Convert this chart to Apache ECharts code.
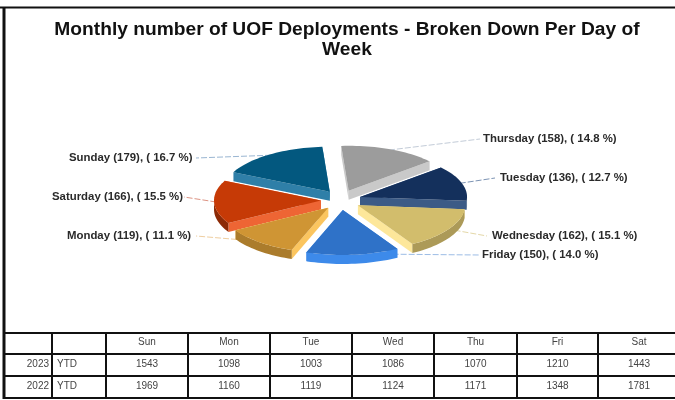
<!DOCTYPE html>
<html>
<head>
<meta charset="utf-8">
<style>
 html, body { margin: 0; padding: 0; background: #fff; }
 #main { width: 675px; height: 400px; }
</style>
</head>
<body>
<div id="main"></div>
<script src="https://cdn.jsdelivr.net/npm/echarts@6/dist/echarts.min.js"></script>
<script>
// slices, clockwise from the top
const days = ['Thursday', 'Tuesday', 'Wednesday', 'Friday', 'Monday', 'Saturday', 'Sunday']
const counts = [158, 136, 162, 150, 119, 166, 179]
const percents = ['14.8', '12.7', '15.1', '14.0', '11.1', '15.5', '16.7']

// table under the pie
const tableDays = ['Sun', 'Mon', 'Tue', 'Wed', 'Thu', 'Fri', 'Sat']
const ytd2023 = [1543, 1098, 1003, 1086, 1070, 1210, 1443]
const ytd2022 = [1969, 1160, 1119, 1124, 1171, 1348, 1781]

// top face, radial cut face, outer wall
const colors = [
 ['#9c9c9c', '#c9c9c9', '#8a8a8a'],
 ['#14305c', '#3c5b86', '#2a4a70'],
 ['#d2bd6c', '#fde79a', '#ac9a58'],
 ['#2f72c8', '#3d8aea', '#3d8aea'],
 ['#cf9534', '#fbc55f', '#ab7c2c'],
 ['#c63a06', '#ee6534', '#8c2a06'],
 ['#03587f', '#2f7fa8', '#02445f']
]
const lineColors = ['#c3ccd8', '#7d94b4', '#e4d8a8', '#9dbde6', '#efcea0', '#dd9484', '#9ab6d2']

// where each label sits: [text x, text y, leader end x]
const labelPos = [
 [483, 139, 480],
 [500, 178, 495],
 [492, 236, 487],
 [482, 255, 480],
 [67, 236, 196],
 [52, 197, 184],
 [69, 158, 196]
]

const pie = { cx: 341, cy: 200, r: 107, ry: 45, depth: 9, explode: 20, start: -4 }
const total = counts.reduce((a, b) => a + b, 0)
const rad = Math.PI / 180

// start and end angle of every slice, degrees clockwise from the top
let acc = pie.start
const angles = counts.map(v => {
 const a = [acc, acc + v / total * 360]
 acc = a[1]
 return a
})
const midOf = i => (angles[i][0] + angles[i][1]) / 2

function project(angle, radius, offX, offY, drop) {
 return [
  pie.cx + offX + radius * Math.sin(angle * rad),
  pie.cy + offY - pie.ry * radius / pie.r * Math.cos(angle * rad) + drop
 ]
}

function arcPoints(a0, a1, offX, offY, drop) {
 const pts = []
 for (let a = a0; a < a1; a += 2) {
  pts.push(project(a, pie.r, offX, offY, drop))
 }
 pts.push(project(a1, pie.r, offX, offY, drop))
 return pts
}

function renderSlice(params, api) {
 const i = api.value(0)
 const [a0, a1] = angles[i]
 const mid = midOf(i)
 const offX = pie.explode * Math.sin(mid * rad)
 const offY = -pie.explode * 0.5 * Math.cos(mid * rad)
 const apex = project(0, 0, offX, offY, 0)
 const apexLow = [apex[0], apex[1] + pie.depth]
 const arc = arcPoints(a0, a1, offX, offY, 0)
 const arcLow = arcPoints(a0, a1, offX, offY, pie.depth)
 const last = arc.length - 1
 const poly = (points, fill) => ({ type: 'polygon', shape: { points }, style: { fill } })
 const children = [
  poly([apex, arc[0], arcLow[0], apexLow], colors[i][1]),
  poly([apex, arc[last], arcLow[last], apexLow], colors[i][1])
 ]
 // outer wall only shows on the front half of the rim
 const w0 = Math.max(a0, 90)
 const w1 = Math.min(a1, 270)
 if (w1 > w0) {
  const top = arcPoints(w0, w1, offX, offY, 0)
  const low = arcPoints(w0, w1, offX, offY, pie.depth)
  children.push(poly(top.concat(low.reverse()), colors[i][2]))
 }
 children.push(poly([apex].concat(arc), colors[i][0]))
 return { type: 'group', children }
}

function renderLabel(params, api) {
 const i = api.value(0)
 const [tx, ty, lx] = labelPos[i]
 const mid = midOf(i)
 const offX = pie.explode * Math.sin(mid * rad)
 const offY = -pie.explode * 0.5 * Math.cos(mid * rad)
 const from = project(mid, pie.r * 0.98, offX, offY, 0)
 return {
  type: 'group',
  children: [
   {
    type: 'polyline',
    shape: { points: [from, [lx, ty]] },
    style: { stroke: lineColors[i], lineWidth: 1, lineDash: [6, 2], fill: null }
   },
   {
    type: 'text',
    style: {
     x: tx,
     y: ty,
     text: days[i] + ' (' + counts[i] + '), ( ' + percents[i] + ' %)',
     fill: '#2a2a2a',
     font: 'bold 11.4px "Liberation Sans", Arial, sans-serif',
     verticalAlign: 'middle'
    }
   }
  ]
 }
}

// table grid and text
const colX = [5, 52, 106, 188, 270, 352, 434, 517, 598, 680]
const rowY = [333, 354, 376, 398]
const tableFont = '10px "Liberation Sans", Arial, sans-serif'

function tableText(text, x, y, align) {
 return { type: 'text', style: { x, y, text: String(text), fill: '#444', font: tableFont, align, verticalAlign: 'middle' } }
}

function buildTable() {
 const out = []
 const line = (x1, y1, x2, y2, w) => out.push({
  type: 'line',
  shape: { x1, y1, x2, y2 },
  style: { stroke: '#111', lineWidth: w }
 })
 // chart frame
 line(0, 7.5, 675, 7.5, 2)
 line(4, 7, 4, 399, 3)
 rowY.forEach(y => line(4, y, 675, y, 2))
 colX.slice(1, 9).forEach(x => line(x, rowY[0], x, rowY[3], 2))
 const rows = [[2023, ytd2023], [2022, ytd2022]]
 tableDays.forEach((d, c) => {
  const x = (colX[c + 2] + colX[c + 3]) / 2
  out.push(tableText(d, x, (rowY[0] + rowY[1]) / 2 - 1, 'center'))
 })
 rows.forEach((row, r) => {
  const y = (rowY[r + 1] + rowY[r + 2]) / 2 - 1
  out.push(tableText(row[0], 49, y, 'right'))
  out.push(tableText('YTD', 57, y, 'left'))
  row[1].forEach((v, c) => {
   out.push(tableText(v, (colX[c + 2] + colX[c + 3]) / 2, y, 'center'))
  })
 })
 return out
}

// back slices first so the front ones cover them
const drawOrder = days.map((d, i) => i).sort((a, b) => Math.cos(midOf(b) * rad) - Math.cos(midOf(a) * rad))

const chart = echarts.init(document.getElementById('main'), null, { renderer: 'canvas' })
chart.setOption({
 animation: false,
 backgroundColor: '#fff',
 title: {
  text: 'Monthly number of UOF Deployments - Broken Down Per Day of\nWeek',
  left: 342,
  top: 15,
  textAlign: 'center',
  textStyle: {
   fontFamily: '"Liberation Sans", Arial, sans-serif',
   fontSize: 19.2,
   fontWeight: 'bold',
   color: '#111',
   lineHeight: 20
  }
 },
 series: [
  { type: 'custom', coordinateSystem: 'none', renderItem: renderLabel, data: days.map((d, i) => [i]), z: 1, silent: true },
  { type: 'custom', coordinateSystem: 'none', renderItem: renderSlice, data: drawOrder.map(i => [i]), z: 2, silent: true }
 ],
 graphic: buildTable()
})
</script>
</body>
</html>
